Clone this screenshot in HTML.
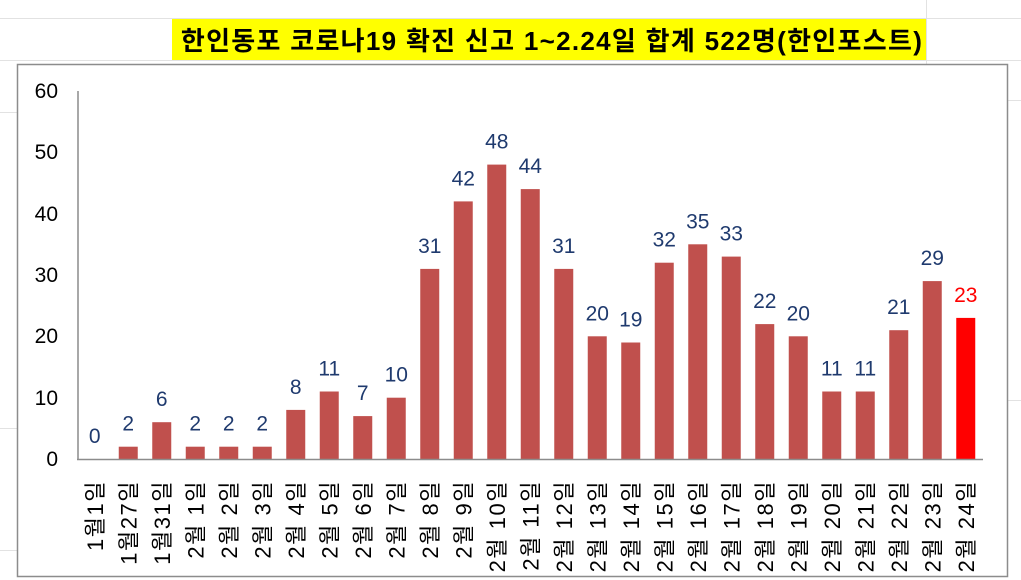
<!DOCTYPE html>
<html><head><meta charset="utf-8"><style>
body{margin:0;background:#fff;}
svg{display:block;font-family:"Liberation Sans","Noto Sans CJK KR",sans-serif;}
</style></head><body>
<svg width="1021" height="580" viewBox="0 0 1021 580">
<g stroke="#e2e2e2" stroke-width="1">
<line x1="0" y1="18.5" x2="1021" y2="18.5"/><line x1="0" y1="60.5" x2="1021" y2="60.5"/>
<line x1="926.5" y1="0" x2="926.5" y2="64"/><line x1="0" y1="112.5" x2="17" y2="112.5"/>
<line x1="0" y1="428.5" x2="17" y2="428.5"/><line x1="0" y1="550.5" x2="17" y2="550.5"/>
<line x1="1008" y1="100.5" x2="1021" y2="100.5"/><line x1="1008" y1="400.5" x2="1021" y2="400.5"/>
</g>
<rect x="172" y="19" width="754" height="41" fill="#ffff00"/>
<text x="552" y="50" text-anchor="middle" font-size="26" font-weight="bold" fill="#000" letter-spacing="1.3">한인동포 코로나19 확진 신고 1~2.24일 합계 522명(한인포스트)</text>
<rect x="17.5" y="64.5" width="990" height="512" fill="#fff" stroke="#8c8c8c" stroke-width="1.5"/>
<g font-size="21" fill="#000" text-anchor="end">
<text x="58" y="466">0</text><text x="58" y="405">10</text><text x="58" y="343">20</text>
<text x="58" y="282">30</text><text x="58" y="221">40</text><text x="58" y="159">50</text><text x="58" y="98">60</text>
</g>
<g fill="#c0504d">
<rect x="118.75" y="446.7" width="19" height="12.3"/>
<rect x="152.25" y="422.2" width="19" height="36.8"/>
<rect x="185.75" y="446.7" width="19" height="12.3"/>
<rect x="219.25" y="446.7" width="19" height="12.3"/>
<rect x="252.75" y="446.7" width="19" height="12.3"/>
<rect x="286.25" y="409.9" width="19" height="49.1"/>
<rect x="319.75" y="391.5" width="19" height="67.5"/>
<rect x="353.25" y="416.1" width="19" height="42.9"/>
<rect x="386.75" y="397.7" width="19" height="61.3"/>
<rect x="420.25" y="268.9" width="19" height="190.1"/>
<rect x="453.75" y="201.4" width="19" height="257.6"/>
<rect x="487.25" y="164.6" width="19" height="294.4"/>
<rect x="520.75" y="189.1" width="19" height="269.9"/>
<rect x="554.25" y="268.9" width="19" height="190.1"/>
<rect x="587.75" y="336.3" width="19" height="122.7"/>
<rect x="621.25" y="342.5" width="19" height="116.5"/>
<rect x="654.75" y="262.7" width="19" height="196.3"/>
<rect x="688.25" y="244.3" width="19" height="214.7"/>
<rect x="721.75" y="256.6" width="19" height="202.4"/>
<rect x="755.25" y="324.1" width="19" height="134.9"/>
<rect x="788.75" y="336.3" width="19" height="122.7"/>
<rect x="822.25" y="391.5" width="19" height="67.5"/>
<rect x="855.75" y="391.5" width="19" height="67.5"/>
<rect x="889.25" y="330.2" width="19" height="128.8"/>
<rect x="922.75" y="281.1" width="19" height="177.9"/>
<rect x="956.25" y="317.9" width="19" height="141.1" fill="#ff0000"/>
</g>
<g font-size="21" fill="#1f3a6e" text-anchor="middle">
<text x="94.75" y="443">0</text>
<text x="128.25" y="430.7">2</text>
<text x="161.75" y="406.2">6</text>
<text x="195.25" y="430.7">2</text>
<text x="228.75" y="430.7">2</text>
<text x="262.25" y="430.7">2</text>
<text x="295.75" y="393.9">8</text>
<text x="329.25" y="375.5">11</text>
<text x="362.75" y="400.1">7</text>
<text x="396.25" y="381.7">10</text>
<text x="429.75" y="252.9">31</text>
<text x="463.25" y="185.4">42</text>
<text x="496.75" y="148.6">48</text>
<text x="530.25" y="173.1">44</text>
<text x="563.75" y="252.9">31</text>
<text x="597.25" y="320.3">20</text>
<text x="630.75" y="326.5">19</text>
<text x="664.25" y="246.7">32</text>
<text x="697.75" y="228.3">35</text>
<text x="731.25" y="240.6">33</text>
<text x="764.75" y="308.1">22</text>
<text x="798.25" y="320.3">20</text>
<text x="831.75" y="375.5">11</text>
<text x="865.25" y="375.5">11</text>
<text x="898.75" y="314.2">21</text>
<text x="932.25" y="265.1">29</text>
<text x="965.75" y="301.9" fill="#ff0000">23</text>
</g>
<g font-size="22" fill="#000" text-anchor="end" letter-spacing="1.5">
<text transform="translate(102.75,480) rotate(-90)">1월1일</text>
<text transform="translate(136.25,480) rotate(-90)">1월27일</text>
<text transform="translate(169.75,480) rotate(-90)">1월31일</text>
<text transform="translate(203.25,480) rotate(-90)">2월 1일</text>
<text transform="translate(236.75,480) rotate(-90)">2월 2일</text>
<text transform="translate(270.25,480) rotate(-90)">2월 3일</text>
<text transform="translate(303.75,480) rotate(-90)">2월 4일</text>
<text transform="translate(337.25,480) rotate(-90)">2월 5일</text>
<text transform="translate(370.75,480) rotate(-90)">2월 6일</text>
<text transform="translate(404.25,480) rotate(-90)">2월 7일</text>
<text transform="translate(437.75,480) rotate(-90)">2월 8일</text>
<text transform="translate(471.25,480) rotate(-90)">2월 9일</text>
<text transform="translate(504.75,480) rotate(-90)">2월 10일</text>
<text transform="translate(538.25,480) rotate(-90)">2월 11일</text>
<text transform="translate(571.75,480) rotate(-90)">2월 12일</text>
<text transform="translate(605.25,480) rotate(-90)">2월 13일</text>
<text transform="translate(638.75,480) rotate(-90)">2월 14일</text>
<text transform="translate(672.25,480) rotate(-90)">2월 15일</text>
<text transform="translate(705.75,480) rotate(-90)">2월 16일</text>
<text transform="translate(739.25,480) rotate(-90)">2월 17일</text>
<text transform="translate(772.75,480) rotate(-90)">2월 18일</text>
<text transform="translate(806.25,480) rotate(-90)">2월 19일</text>
<text transform="translate(839.75,480) rotate(-90)">2월 20일</text>
<text transform="translate(873.25,480) rotate(-90)">2월 21일</text>
<text transform="translate(906.75,480) rotate(-90)">2월 22일</text>
<text transform="translate(940.25,480) rotate(-90)">2월 23일</text>
<text transform="translate(973.75,480) rotate(-90)">2월 24일</text>
</g>
<line x1="78" y1="91" x2="78" y2="460" stroke="#8c8c8c" stroke-width="1.5"/>
<line x1="77" y1="459.5" x2="983" y2="459.5" stroke="#8c8c8c" stroke-width="1.5"/>
</svg>
</body></html>
